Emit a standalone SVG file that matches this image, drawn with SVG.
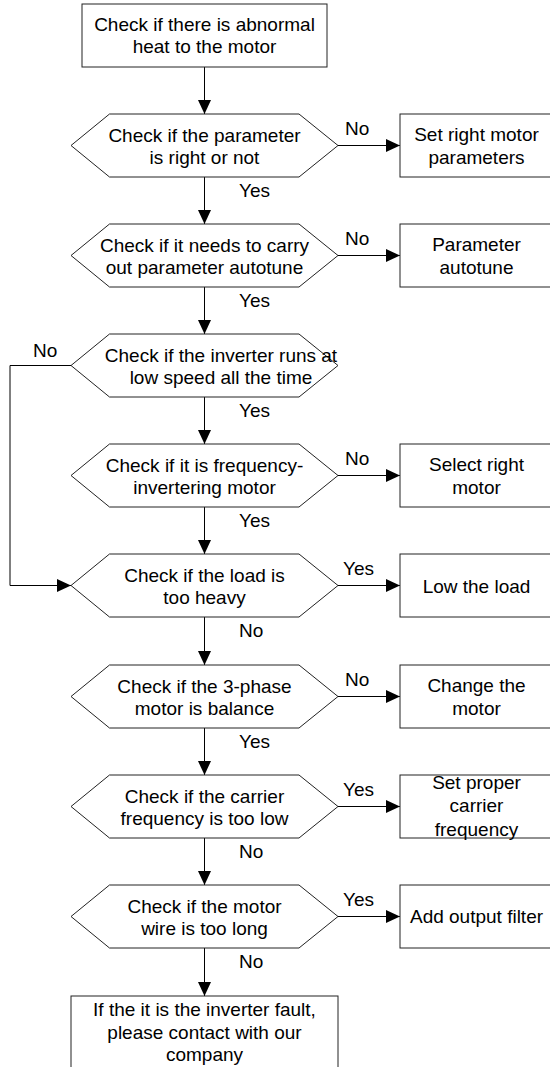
<svg xmlns="http://www.w3.org/2000/svg" width="550" height="1067" viewBox="0 0 550 1067">
<style>
.n{fill:#fff;stroke:#222;stroke-width:1}
.c{fill:none;stroke:#000;stroke-width:1}
text{font-family:"Liberation Sans",Arial,sans-serif;font-size:19px;fill:#000}
.m{text-anchor:middle}
</style>
<defs>
<marker id="ah" markerWidth="14" markerHeight="13" refX="14" refY="6.5" orient="auto" markerUnits="userSpaceOnUse"><path d="M0,0 L14,6.5 L0,13 Z" fill="#000"/></marker>
</defs>
<rect width="550" height="1067" fill="#fff"/>
<g id="connectors">
<line class="c" x1="204.5" y1="67" x2="204.5" y2="114" marker-end="url(#ah)"/>
<line class="c" x1="204.5" y1="177" x2="204.5" y2="224" marker-end="url(#ah)"/>
<line class="c" x1="204.5" y1="287" x2="204.5" y2="334" marker-end="url(#ah)"/>
<line class="c" x1="204.5" y1="397" x2="204.5" y2="444" marker-end="url(#ah)"/>
<line class="c" x1="204.5" y1="507" x2="204.5" y2="554" marker-end="url(#ah)"/>
<line class="c" x1="204.5" y1="617" x2="204.5" y2="665" marker-end="url(#ah)"/>
<line class="c" x1="204.5" y1="728" x2="204.5" y2="775" marker-end="url(#ah)"/>
<line class="c" x1="204.5" y1="838" x2="204.5" y2="885" marker-end="url(#ah)"/>
<line class="c" x1="204.5" y1="948" x2="204.5" y2="996" marker-end="url(#ah)"/>
<line class="c" x1="338" y1="145.5" x2="400" y2="145.5" marker-end="url(#ah)"/>
<line class="c" x1="338" y1="255.5" x2="400" y2="255.5" marker-end="url(#ah)"/>
<line class="c" x1="338" y1="475.5" x2="400" y2="475.5" marker-end="url(#ah)"/>
<line class="c" x1="338" y1="585.5" x2="400" y2="585.5" marker-end="url(#ah)"/>
<line class="c" x1="338" y1="696.5" x2="400" y2="696.5" marker-end="url(#ah)"/>
<line class="c" x1="338" y1="806.5" x2="400" y2="806.5" marker-end="url(#ah)"/>
<line class="c" x1="338" y1="916.5" x2="400" y2="916.5" marker-end="url(#ah)"/>
<polyline class="c" points="71,365.5 10,365.5 10,585.5 71,585.5" marker-end="url(#ah)"/>
<text x="239" y="197">Yes</text>
<text x="239" y="307">Yes</text>
<text x="239" y="417">Yes</text>
<text x="239" y="527">Yes</text>
<text x="239" y="637">No</text>
<text x="239" y="748">Yes</text>
<text x="239" y="858">No</text>
<text x="239" y="968">No</text>
<text x="345" y="134.5">No</text>
<text x="345" y="244.5">No</text>
<text x="345" y="464.5">No</text>
<text x="343" y="574.5">Yes</text>
<text x="345" y="685.5">No</text>
<text x="343" y="795.5">Yes</text>
<text x="343" y="905.5">Yes</text>
<text x="33" y="357">No</text>
</g>
<g id="start">
<rect class="n" x="82" y="4" width="245" height="63"/>
<text class="m" x="204.5" y="30.5">Check if there is abnormal</text>
<text class="m" x="204.5" y="53">heat to the motor</text>
</g>
<g id="d1">
<polygon class="n" points="71,145.5 109.5,114 299,114 338,145.5 299,177 109.5,177"/>
<text class="m" x="204.5" y="141.5">Check if the parameter</text>
<text class="m" x="204.5" y="163.5">is right or not</text>
</g>
<g id="r1">
<rect class="n" x="400" y="114" width="153" height="63"/>
<text class="m" x="476.5" y="141">Set right motor</text>
<text class="m" x="476.5" y="163.5">parameters</text>
</g>
<g id="d2">
<polygon class="n" points="71,255.5 109.5,224 299,224 338,255.5 299,287 109.5,287"/>
<text class="m" x="204.5" y="251.5">Check if it needs to carry</text>
<text class="m" x="204.5" y="273.5">out parameter autotune</text>
</g>
<g id="r2">
<rect class="n" x="400" y="224" width="153" height="63"/>
<text class="m" x="476.5" y="251">Parameter</text>
<text class="m" x="476.5" y="273.5">autotune</text>
</g>
<g id="d3">
<polygon class="n" points="71,365.5 109.5,334 299,334 338,365.5 299,397 109.5,397"/>
<text class="m" x="221" y="361.5">Check if the inverter runs at</text>
<text class="m" x="221" y="383.5">low speed all the time</text>
</g>
<g id="d4">
<polygon class="n" points="71,475.5 109.5,444 299,444 338,475.5 299,507 109.5,507"/>
<text class="m" x="204.5" y="471.5">Check if it is frequency-</text>
<text class="m" x="204.5" y="493.5">invertering motor</text>
</g>
<g id="r4">
<rect class="n" x="400" y="444" width="153" height="63"/>
<text class="m" x="476.5" y="471">Select right</text>
<text class="m" x="476.5" y="493.5">motor</text>
</g>
<g id="d5">
<polygon class="n" points="71,585.5 109.5,554 299,554 338,585.5 299,617 109.5,617"/>
<text class="m" x="204.5" y="581.5">Check if the load is</text>
<text class="m" x="204.5" y="603.5">too heavy</text>
</g>
<g id="r5">
<rect class="n" x="400" y="554" width="153" height="63"/>
<text class="m" x="476.5" y="592.5">Low the load</text>
</g>
<g id="d6">
<polygon class="n" points="71,696.5 109.5,665 299,665 338,696.5 299,728 109.5,728"/>
<text class="m" x="204.5" y="692.5">Check if the 3-phase</text>
<text class="m" x="204.5" y="714.5">motor is balance</text>
</g>
<g id="r6">
<rect class="n" x="400" y="665" width="153" height="63"/>
<text class="m" x="476.5" y="692">Change the</text>
<text class="m" x="476.5" y="714.5">motor</text>
</g>
<g id="d7">
<polygon class="n" points="71,806.5 109.5,775 299,775 338,806.5 299,838 109.5,838"/>
<text class="m" x="204.5" y="802.5">Check if the carrier</text>
<text class="m" x="204.5" y="824.5">frequency is too low</text>
</g>
<g id="r7">
<rect class="n" x="400" y="775" width="153" height="63"/>
<text class="m" x="476.5" y="789">Set proper</text>
<text class="m" x="476.5" y="812">carrier</text>
<text class="m" x="476.5" y="835.5">frequency</text>
</g>
<g id="d8">
<polygon class="n" points="71,916.5 109.5,885 299,885 338,916.5 299,948 109.5,948"/>
<text class="m" x="204.5" y="912.5">Check if the motor</text>
<text class="m" x="204.5" y="934.5">wire is too long</text>
</g>
<g id="r8">
<rect class="n" x="400" y="885" width="153" height="63"/>
<text class="m" x="476.5" y="923">Add output filter</text>
</g>
<g id="end">
<rect class="n" x="71" y="996" width="267" height="90"/>
<text class="m" x="204.5" y="1016">If the it is the inverter fault,</text>
<text class="m" x="204.5" y="1038.5">please contact with our</text>
<text class="m" x="204.5" y="1061">company</text>
</g>
</svg>
